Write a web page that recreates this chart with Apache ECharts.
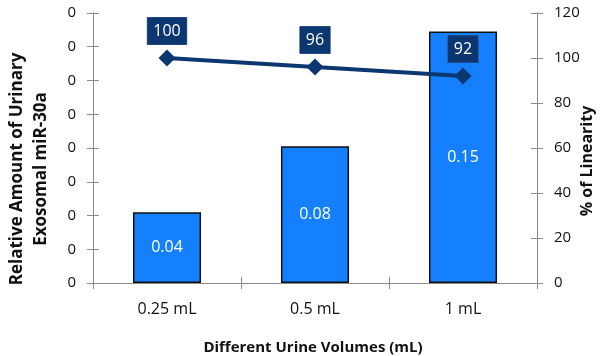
<!DOCTYPE html>
<html><head><meta charset="utf-8">
<script src="https://cdn.jsdelivr.net/npm/echarts@6/dist/echarts.min.js"></script>
<style>html,body{margin:0;padding:0;background:#fff}#c{width:600px;height:356px}</style>
</head><body><div id="c"></div>
<script>
var categories = ['0.25 mL', '0.5 mL', '1 mL'];
var amountValues = [0.042, 0.081, 0.149];
var linearityValues = [100, 96, 92];
var leftTicks = {min: 0, max: 0.16, interval: 0.02};
var rightTicks = {min: 0, max: 120, interval: 20};

var FONT = '"Open Sans", "Noto Sans", sans-serif';
var axisGray = '#8c8c8c';
var chart = echarts.init(document.getElementById('c'), null, {renderer: 'canvas'});

function yAx(side, ticks, inside, showLabel, fmt) {
  return {
    type: 'value', position: side, min: ticks.min, max: ticks.max, interval: ticks.interval,
    axisLine: {show: true, lineStyle: {color: axisGray, width: 1}},
    axisTick: {show: true, inside: inside, length: 6, lineStyle: {color: axisGray}},
    axisLabel: {show: showLabel, color: '#111', fontFamily: FONT, fontSize: 15, margin: 17, formatter: fmt},
    splitLine: {show: false}
  };
}
function xAx(inside, showLabel) {
  return {
    type: 'category', data: categories, position: 'bottom',
    axisLine: {show: true, lineStyle: {color: axisGray}},
    axisTick: {show: true, inside: inside, length: 6, lineStyle: {color: axisGray}},
    axisLabel: {show: showLabel, color: '#111', fontFamily: FONT, fontSize: 16, margin: 18},
    splitLine: {show: false}
  };
}

chart.setOption({
  animation: false,
  backgroundColor: '#fff',
  grid: {left: 93, right: 63, top: 13, bottom: 73},
  xAxis: [xAx(false, true), xAx(true, false)],
  yAxis: [
    yAx('left', leftTicks, false, true, function (v) { return String(Math.round(v)); }),
    yAx('right', rightTicks, false, true, function (v) { return String(v); }),
    yAx('left', leftTicks, true, false),
    yAx('right', rightTicks, true, false)
  ],
  series: [
    {
      type: 'bar', data: amountValues, xAxisIndex: 0, yAxisIndex: 0, barWidth: '46%',
      itemStyle: {color: '#1480fe', borderColor: '#111', borderWidth: 1.5},
      label: {show: true, position: 'inside', color: '#fff', fontFamily: FONT, fontSize: 16,
        formatter: function (p) { return p.value.toFixed(2); }},
      z: 2
    },
    {
      type: 'line', data: linearityValues, xAxisIndex: 0, yAxisIndex: 1,
      lineStyle: {color: '#0b3670', width: 4},
      itemStyle: {color: '#0b3670'},
      symbol: 'diamond', symbolSize: 17,
      label: {show: true, position: 'top', distance: 5, color: '#fff', backgroundColor: '#0b3670',
        padding: [6, 6, 5, 6], fontFamily: FONT, fontSize: 16, borderColor: '#3a5f90', borderWidth: 0.5},
      z: 5
    }
  ],
  graphic: [
    {type: 'text', x: 17, y: 169, rotation: Math.PI / 2,
      style: {text: 'Relative Amount of Urinary', font: 'bold 17px ' + FONT, fill: '#111', textAlign: 'center', textVerticalAlign: 'middle'}},
    {type: 'text', x: 41, y: 169, rotation: Math.PI / 2,
      style: {text: 'Exosomal miR-30a', font: 'bold 17px ' + FONT, fill: '#111', textAlign: 'center', textVerticalAlign: 'middle'}},
    {type: 'text', x: 587, y: 161, rotation: Math.PI / 2,
      style: {text: '% of Linearity', font: 'bold 16px ' + FONT, fill: '#111', textAlign: 'center', textVerticalAlign: 'middle'}},
    {type: 'text', x: 313, y: 348,
      style: {text: 'Different Urine Volumes (mL)', font: 'bold 15px ' + FONT, fill: '#111', textAlign: 'center', textVerticalAlign: 'middle'}}
  ]
});
</script></body></html>
